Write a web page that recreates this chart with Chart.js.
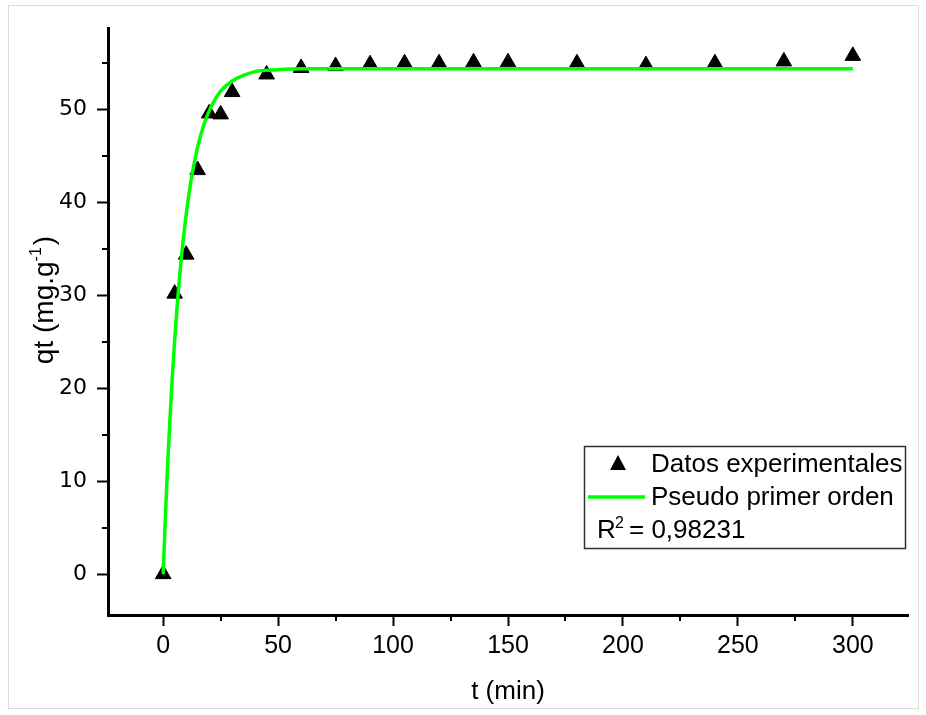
<!DOCTYPE html>
<html>
<head>
<meta charset="utf-8">
<title>qt vs t</title>
<script src="https://cdn.jsdelivr.net/npm/chart.js@4.4.1/dist/chart.umd.min.js"></script>
<style>
  body { margin: 0; background: #fff; }
  canvas { display: block; }
</style>
</head>
<body>
<canvas id="chart" width="926" height="715"></canvas>
<script>
// Experimental points (t in min, qt in mg/g)
const timeMin = [0, 5, 10, 15, 20, 25, 30, 45, 60, 75, 90, 105, 120, 135, 150, 180, 210, 240, 270, 300];
const qtExp = [0, 30.2, 34.4, 43.5, 49.6, 49.5, 51.9, 53.8, 54.5, 54.7, 54.9, 55.0, 55.0, 55.1, 55.1, 55.0, 54.8, 55.0, 55.2, 55.8];

// Pseudo first order curve
const fitTime = [0, 1, 2, 3, 4, 5, 6, 8, 10, 12, 15, 18, 21, 25, 30, 35, 40, 50, 60, 80, 100, 150, 200, 250, 300];
const fitQt = [0, 6.4, 12.0, 16.9, 21.3, 25.2, 28.6, 34.3, 38.7, 42.2, 46.0, 48.6, 50.4, 52.0, 53.1, 53.7, 54.1, 54.3, 54.4, 54.4, 54.4, 54.4, 54.4, 54.4, 54.4];

// Axis ticks
const xTicks = [0, 50, 100, 150, 200, 250, 300];
const xMinor = [25, 75, 125, 175, 225, 275];
const yTicks = [0, 10, 20, 30, 40, 50];
const yMinor = [5, 15, 25, 35, 45, 55];

const labelExp = 'Datos experimentales';
const labelFit = 'Pseudo primer orden';
const r2Text = '0,98231';

// Background frame, minor ticks, axis titles and the legend box
const extras = {
    id: 'extras',
    beforeDraw(chart) {
        const ctx = chart.ctx;
        ctx.save();
        ctx.fillStyle = '#fff';
        ctx.fillRect(0, 0, chart.width, chart.height);
        ctx.strokeStyle = '#dcdcdc';
        ctx.lineWidth = 1;
        ctx.strokeRect(8.5, 5.5, 910, 703);
        ctx.restore();
    },
    afterDraw(chart) {
        const ctx = chart.ctx;
        const xs = chart.scales.x;
        const ys = chart.scales.y;
        const area = chart.chartArea;
        ctx.save();

        // minor ticks
        ctx.strokeStyle = '#000';
        ctx.lineWidth = 2;
        ctx.beginPath();
        xMinor.forEach(v => {
            const px = Math.round(xs.getPixelForValue(v));
            ctx.moveTo(px, area.bottom);
            ctx.lineTo(px, area.bottom + 6);
        });
        yMinor.forEach(v => {
            const py = Math.round(ys.getPixelForValue(v));
            ctx.moveTo(area.left, py);
            ctx.lineTo(area.left - 6, py);
        });
        ctx.stroke();

        ctx.fillStyle = '#000';

        // x title
        ctx.font = '26px "Liberation Sans", Arial, sans-serif';
        ctx.textAlign = 'center';
        ctx.textBaseline = 'alphabetic';
        ctx.fillText('t (min)', (area.left + area.right) / 2, 699);

        // y title with superscript
        ctx.save();
        ctx.translate(53, 300);
        ctx.rotate(-Math.PI / 2);
        ctx.textAlign = 'left';
        const main = '28px "Liberation Sans", Arial, sans-serif';
        const sup = '16px "Liberation Sans", Arial, sans-serif';
        ctx.font = main;
        const w1 = ctx.measureText('qt (mg.g').width;
        const w3 = ctx.measureText(')').width;
        ctx.font = sup;
        const w2 = ctx.measureText('-1').width + 2;
        let sx = -(w1 + w2 + w3) / 2;
        ctx.font = main;
        ctx.fillText('qt (mg.g', sx, 0);
        sx += w1;
        ctx.font = sup;
        ctx.fillText('-1', sx, -12);
        sx += w2;
        ctx.font = main;
        ctx.fillText(')', sx, 0);
        ctx.restore();

        // legend box
        ctx.strokeStyle = '#333';
        ctx.lineWidth = 1.5;
        ctx.strokeRect(584.5, 446.5, 321, 102);

        // triangle marker
        ctx.fillStyle = '#000';
        ctx.beginPath();
        ctx.moveTo(618, 455);
        ctx.lineTo(626, 470);
        ctx.lineTo(610, 470);
        ctx.closePath();
        ctx.fill();

        // green line sample
        ctx.strokeStyle = '#00ff00';
        ctx.lineWidth = 3.5;
        ctx.beginPath();
        ctx.moveTo(588, 497);
        ctx.lineTo(645, 497);
        ctx.stroke();

        ctx.fillStyle = '#000';
        ctx.textAlign = 'left';
        ctx.font = '26px "Liberation Sans", Arial, sans-serif';
        ctx.fillText(chart.data.datasets[1].label, 651, 472);
        ctx.fillText(chart.data.datasets[0].label, 651, 505);
        ctx.fillText('R', 597, 538);
        ctx.font = '16px "Liberation Sans", Arial, sans-serif';
        ctx.fillText('2', 615, 528);
        ctx.font = '26px "Liberation Sans", Arial, sans-serif';
        ctx.fillText('= ' + r2Text, 629, 538);

        ctx.restore();
    }
};

const ctx = document.getElementById('chart').getContext('2d');
new Chart(ctx, {
    type: 'scatter',
    data: {
        datasets: [{
            type: 'line',
            label: labelFit,
            data: fitTime.map((t, i) => ({ x: t, y: fitQt[i] })),
            borderColor: '#00ff00',
            borderWidth: 3.5,
            pointRadius: 0,
            cubicInterpolationMode: 'monotone',
            fill: false
        }, {
            label: labelExp,
            data: timeMin.map((t, i) => ({ x: t, y: qtExp[i] })),
            pointStyle: 'triangle',
            pointRadius: 9,
            backgroundColor: '#000',
            borderColor: '#000',
            borderWidth: 1
        }]
    },
    options: {
        responsive: false,
        animation: false,
        events: [],
        layout: { padding: { top: 28, right: 18, left: 0, bottom: 0 } },
        plugins: {
            legend: { display: false },
            tooltip: { enabled: false }
        },
        scales: {
            x: {
                type: 'linear',
                min: -24,
                max: 324,
                afterBuildTicks: scale => { scale.ticks = xTicks.map(v => ({ value: v })); },
                afterFit: scale => { scale.height = 100; },
                grid: { drawOnChartArea: false, drawTicks: true, tickLength: 11, tickWidth: 2, tickColor: '#000' },
                border: { display: true, color: '#000', width: 3 },
                ticks: {
                    color: '#000',
                    padding: 5,
                    maxRotation: 0,
                    font: { family: '"Liberation Sans", Arial, sans-serif', size: 25 }
                }
            },
            y: {
                type: 'linear',
                min: -4.4,
                max: 58.8,
                afterBuildTicks: scale => { scale.ticks = yTicks.map(v => ({ value: v })); },
                afterFit: scale => { scale.width = 108; },
                grid: { drawOnChartArea: false, drawTicks: true, tickLength: 11, tickWidth: 2, tickColor: '#000' },
                border: { display: true, color: '#000', width: 3 },
                ticks: {
                    color: '#000',
                    padding: 10,
                    font: { family: '"DejaVu Sans", Verdana, sans-serif', size: 22 }
                }
            }
        }
    },
    plugins: [extras]
});
</script>
</body>
</html>
